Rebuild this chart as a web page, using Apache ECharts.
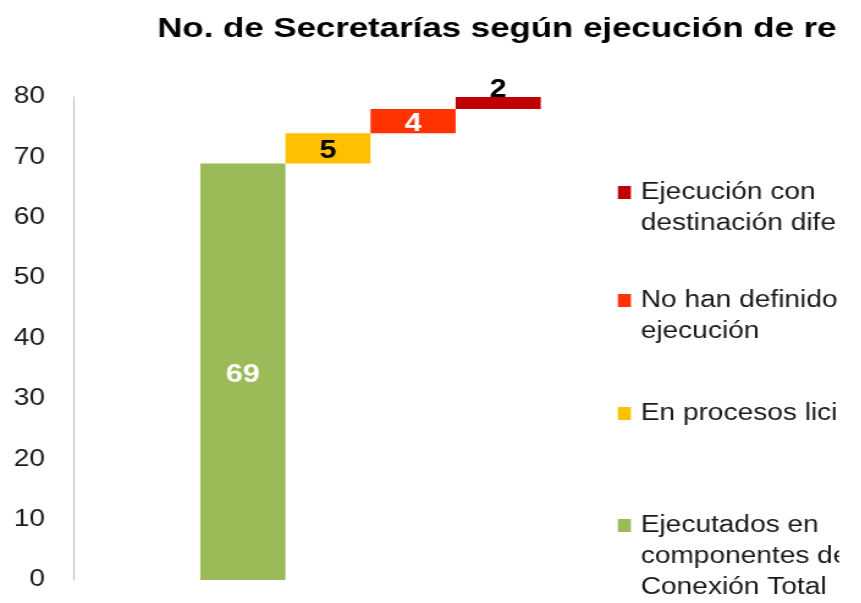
<!DOCTYPE html>
<html>
<head>
<meta charset="utf-8">
<script src="https://cdn.jsdelivr.net/npm/echarts@6/dist/echarts.min.js"></script>
<style>
  html, body { margin: 0; padding: 0; background: #ffffff; overflow: hidden; }
  #chart { height: 603px; transform-origin: 0 0; }
</style>
</head>
<body>
<div id="chart"></div>
<script>
// Waterfall of secretariats by execution status
const titleText = 'No. de Secretarías según ejecución de re';
const categories = ['Secretarías'];
const stepNames = [
  'Ejecutados en componentes de Conexión Total',
  'En procesos lici',
  'No han definido ejecución',
  'Ejecución con destinación dife'
];
const stepValues = [69, 5, 4, 2];
const legendLabels = [
  'Ejecutados en\ncomponentes de\nConexión Total',
  'En procesos lici',
  'No han definido\nejecución',
  'Ejecución con\ndestinación dife'
];
const yTicks = { min: 0, max: 80, interval: 10 };

const colors = ['#9BBB59', '#FFC000', '#FF3300', '#C00000'];
const labelColors = ['#ffffff', '#000000', '#ffffff', '#000000'];
const FONT = '"Liberation Sans", Arial, sans-serif';

// The canvas is laid out narrower and widened with CSS, giving broad lettering.
const PAGE_W = 861;
const SX = 1.22;
const W = PAGE_W / SX;
const el = document.getElementById('chart');
el.style.width = W + 'px';
el.style.transform = 'scaleX(' + SX + ')';
const px = v => v / SX; // page x-distance -> canvas x-distance

// running offsets so each step starts where the previous one ended
const offsets = stepValues.map((v, i) => stepValues.slice(0, i).reduce((a, b) => a + b, 0));

const BAR_W = px(85);
const series = [];
stepValues.forEach((v, i) => {
  const stack = 'step' + i;
  if (offsets[i] > 0) {
    series.push({
      type: 'bar', stack, data: [offsets[i]], barWidth: BAR_W, barGap: '0%',
      itemStyle: { color: 'transparent' }, silent: true, emphasis: { disabled: true }
    });
  }
  const isLast = i === stepValues.length - 1;
  series.push({
    name: stepNames[i], type: 'bar', stack, data: [v], barWidth: BAR_W, barGap: '0%',
    itemStyle: { color: colors[i] },
    label: {
      show: true,
      position: isLast ? 'top' : 'inside',
      distance: isLast ? -6 : 5,
      offset: isLast ? [0, 0] : [0, 3],
      color: labelColors[i], fontWeight: 'bold', fontSize: 25, fontFamily: FONT
    }
  });
});

// legend rows: blank lines above keep the marker beside the first line of text
const legendRows = [
  { idx: 3, top: 146, pad: 1 },
  { idx: 2, top: 254, pad: 1 },
  { idx: 1, top: 398, pad: 0 },
  { idx: 0, top: 448, pad: 2 }
];
const legends = legendRows.map(r => ({
  data: [stepNames[r.idx]],
  left: px(617), top: r.top, padding: 0,
  icon: 'rect', itemWidth: px(13), itemHeight: 13, itemGap: 0,
  selectedMode: false,
  formatter: () => '\n'.repeat(r.pad) + legendLabels[r.idx],
  textStyle: { fontSize: 23, lineHeight: 31, color: '#1a1a1a', fontFamily: FONT, padding: [0, 0, 0, 3] }
}));

const chart = echarts.init(el, null, { renderer: 'canvas', width: W, height: 603 });
chart.setOption({
  backgroundColor: '#ffffff',
  animation: false,
  title: {
    text: titleText, left: px(157), top: 15, padding: 0,
    textStyle: { fontSize: 28.5, fontWeight: 'bold', color: '#000000', fontFamily: FONT }
  },
  legend: legends,
  grid: { left: px(73), right: W - px(667), top: 97, bottom: 23, containLabel: false },
  xAxis: {
    type: 'category', data: categories,
    axisLine: { show: false }, axisTick: { show: false }, axisLabel: { show: false }
  },
  yAxis: {
    type: 'value', min: yTicks.min, max: yTicks.max, interval: yTicks.interval,
    axisLine: { show: true, lineStyle: { color: '#bfbfbf', width: 1 } },
    axisTick: { show: false },
    splitLine: { show: false },
    axisLabel: { fontSize: 23, color: '#1a1a1a', margin: px(28), fontFamily: FONT }
  },
  // plain white strip along the right edge
  graphic: [{
    type: 'rect', left: px(838), top: 0, z: 100,
    shape: { width: px(30), height: 603 }, style: { fill: '#ffffff' }
  }],
  series
});
</script>
</body>
</html>
